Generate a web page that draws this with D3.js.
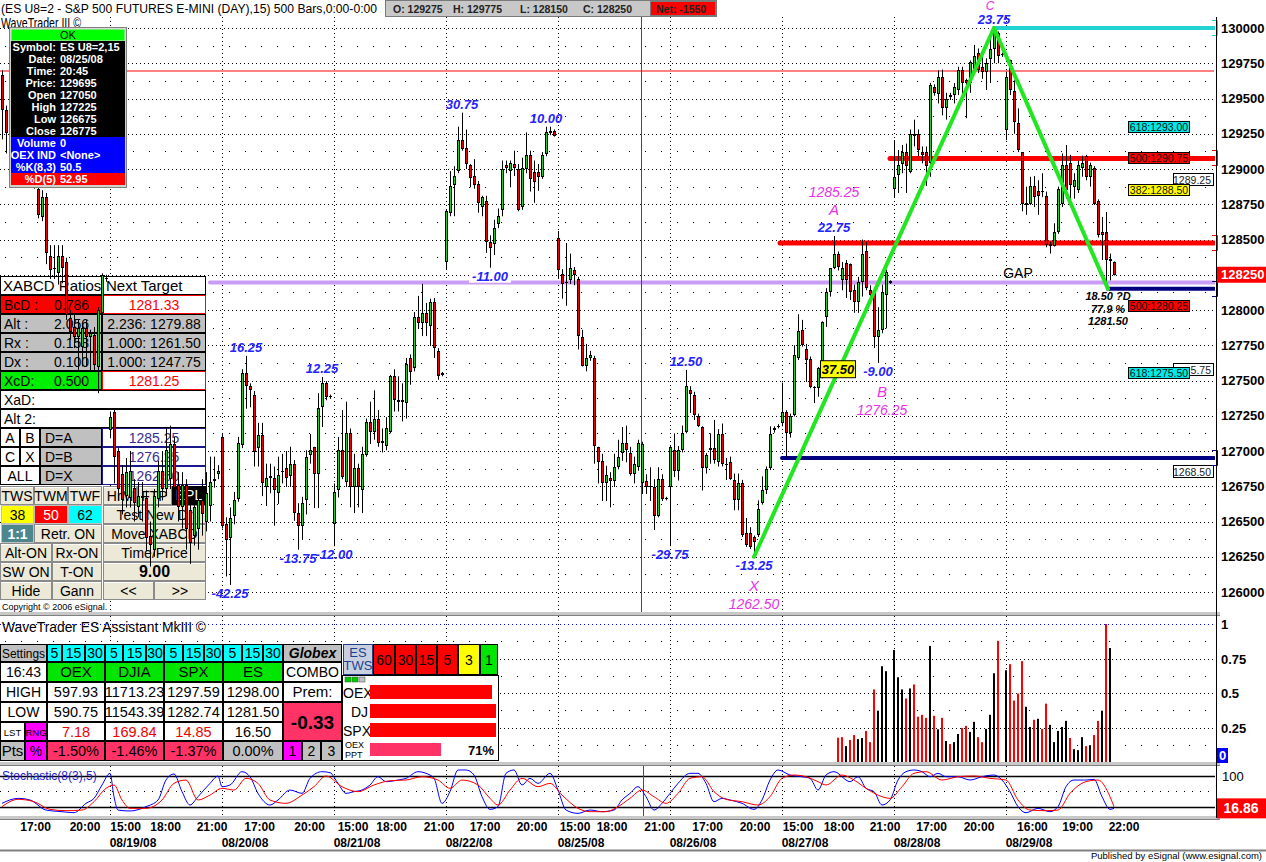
<!DOCTYPE html>
<html><head><meta charset="utf-8"><title>ES U8 15-min chart</title>
<script src="https://cdn.jsdelivr.net/npm/d3@7/dist/d3.min.js"></script>
<style>
html,body{margin:0;padding:0;background:#fff;}
svg{display:block;}
text{font-family:"Liberation Sans",Arial,Helvetica,sans-serif;}
</style></head><body>
<svg id="chart" width="1266" height="862"></svg>
<script>
// ================= DATA =================
// 15-minute candles, [open, high, low, close], one array per session (28 bars each)
const s0818 = [[1297.5,1298.5,1296.5,1296.8],[1296.7,1297.0,1292.1,1294.2],[1294.2,1294.5,1291.1,1292.55],[1292.5,1293.5,1291.0,1291.5],[1291.5,1292.5,1290.5,1292.0],[1292.0,1293.0,1291.0,1291.25],[1291.25,1292.0,1290.0,1290.5],[1290.5,1291.5,1289.5,1291.0],[1291.0,1291.5,1289.0,1289.5],[1289.5,1290.5,1288.6,1289.25],[1288.6,1289.5,1286.5,1286.75],[1286.6,1288.5,1286.3,1288.0],[1288.0,1288.3,1283.25,1284.05],[1283.8,1284.6,1282.2,1282.85],[1282.9,1284.6,1282.2,1283.0],[1282.6,1284.6,1281.8,1283.8],[1283.8,1284.6,1281.9,1283.0],[1283.4,1283.7,1279.3,1279.65],[1279.4,1280.0,1277.9,1278.45],[1278.8,1279.8,1277.3,1278.1],[1278.1,1279.3,1275.75,1278.7],[1277.4,1279.1,1276.0,1278.7],[1278.7,1279.3,1276.0,1278.1],[1278.1,1278.6,1275.75,1278.4],[1278.2,1278.8,1275.75,1276.1],[1275.96,1280.2,1274.1,1280.0],[1279.8,1282.6,1279.6,1282.5],[1282.3,1282.5,1282.0,1282.2]];
const s0819 = [[1271.5,1272.8,1270.9,1272.4],[1272.8,1273.0,1267.7,1269.6],[1270.0,1270.2,1266.5,1267.3],[1268.4,1269.0,1265.5,1266.5],[1266.8,1269.5,1266.0,1268.5],[1266.7,1270.0,1266.0,1268.6],[1267.4,1268.0,1265.0,1266.3],[1266.0,1267.8,1265.3,1266.8],[1266.7,1267.8,1265.0,1266.8],[1266.7,1267.2,1262.9,1263.8],[1264.0,1265.0,1261.8,1263.3],[1263.0,1267.3,1262.5,1266.8],[1266.6,1269.3,1266.0,1268.6],[1268.6,1270.0,1266.5,1267.3],[1267.3,1271.6,1266.8,1270.1],[1268.0,1271.8,1267.3,1270.5],[1270.5,1271.0,1266.8,1267.4],[1267.6,1268.5,1265.0,1266.0],[1266.0,1268.5,1264.5,1267.6],[1267.6,1268.0,1263.0,1264.5],[1265.8,1266.5,1262.0,1263.5],[1264.0,1266.5,1263.3,1266.0],[1264.5,1267.0,1263.0,1266.5],[1266.5,1268.0,1264.0,1265.5],[1265.0,1268.5,1264.3,1267.0],[1266.1,1269.6,1265.0,1267.8],[1267.9,1269.6,1267.4,1268.0],[1268.4,1269.0,1268.0,1268.6]];
const s0820 = [[1271.0,1271.2,1264.5,1264.7],[1264.8,1265.3,1261.1,1263.7],[1263.8,1266.0,1260.5,1265.25],[1265.4,1267.1,1264.8,1266.5],[1266.6,1271.0,1266.4,1270.6],[1270.4,1275.8,1270.2,1275.5],[1275.5,1276.75,1273.0,1274.6],[1274.6,1274.8,1273.1,1274.3],[1274.0,1274.25,1268.9,1269.9],[1270.2,1272.0,1268.9,1271.1],[1271.1,1272.0,1266.8,1267.7],[1267.45,1269.1,1266.1,1268.1],[1268.2,1269.1,1267.0,1268.1],[1268.1,1268.9,1264.7,1267.2],[1267.0,1269.6,1266.25,1268.3],[1268.5,1269.8,1267.7,1268.6],[1268.8,1270.0,1267.45,1268.1],[1268.2,1270.3,1267.45,1269.1],[1269.1,1269.35,1265.05,1265.6],[1265.6,1266.3,1263.0,1264.7],[1264.7,1266.75,1263.7,1266.3],[1266.5,1270.05,1265.5,1269.6],[1269.7,1271.2,1269.1,1270.05],[1270.3,1270.3,1265.95,1268.4],[1268.4,1274.1,1265.95,1273.05],[1273.1,1275.25,1271.7,1274.8],[1274.8,1274.95,1273.6,1273.85],[1273.9,1274.0,1273.7,1273.85]];
const s0821 = [[1264.8,1267.7,1263.25,1267.1],[1267.2,1271.0,1266.7,1270.05],[1270.05,1272.9,1268.0,1268.15],[1267.8,1273.5,1267.45,1271.3],[1271.3,1271.6,1266.0,1267.45],[1267.45,1269.8,1265.6,1268.8],[1268.8,1269.1,1266.0,1267.45],[1267.2,1270.3,1265.6,1269.8],[1269.7,1272.3,1269.6,1272.05],[1272.05,1273.5,1270.5,1271.35],[1271.35,1274.3,1270.8,1272.25],[1272.25,1272.9,1270.3,1270.6],[1270.7,1271.6,1269.9,1270.55],[1270.35,1272.4,1270.05,1271.6],[1271.35,1275.4,1271.25,1275.3],[1275.3,1275.8,1272.8,1273.6],[1273.6,1275.3,1272.8,1273.5],[1273.6,1274.8,1272.1,1273.5],[1273.4,1276.6,1272.3,1276.2],[1276.6,1276.85,1274.7,1275.6],[1275.9,1279.85,1275.65,1279.5],[1279.5,1281.0,1278.65,1279.1],[1279.1,1281.85,1278.15,1279.8],[1279.8,1280.5,1278.15,1279.1],[1278.9,1280.8,1277.45,1280.6],[1280.6,1280.85,1276.6,1277.3],[1277.1,1277.3,1275.05,1275.35],[1275.5,1275.6,1275.3,1275.4]];
const s0822 = [[1283.4,1287.1,1282.85,1287.0],[1286.9,1289.85,1286.65,1288.8],[1288.9,1290.2,1286.65,1289.5],[1289.85,1293.0,1289.7,1292.05],[1292.05,1294.0,1291.3,1291.4],[1291.5,1292.8,1290.0,1290.35],[1290.3,1290.35,1288.7,1289.35],[1289.5,1290.7,1288.6,1288.9],[1288.95,1289.15,1286.9,1287.6],[1287.3,1288.1,1286.65,1288.0],[1287.75,1288.1,1284.05,1284.85],[1284.8,1285.3,1283.0,1284.4],[1284.65,1286.4,1283.9,1285.8],[1286.1,1287.2,1285.8,1286.65],[1287.1,1290.6,1286.65,1290.0],[1290.3,1290.6,1289.7,1290.1],[1289.85,1290.6,1288.7,1290.45],[1290.35,1291.3,1289.5,1290.1],[1290.0,1290.35,1287.0,1287.1],[1287.3,1290.8,1287.1,1290.1],[1290.0,1292.6,1289.7,1291.0],[1291.0,1291.3,1288.4,1289.3],[1289.8,1290.6,1287.6,1289.1],[1289.8,1290.35,1288.45,1289.4],[1289.4,1291.2,1289.3,1291.0],[1291.05,1293.0,1290.9,1292.6],[1292.55,1293.0,1292.4,1292.7],[1292.7,1292.8,1292.3,1292.35]];
const s0825 = [[1285.1,1285.6,1282.2,1282.85],[1282.55,1282.9,1280.8,1281.85],[1282.0,1284.75,1280.3,1281.9],[1282.1,1284.0,1281.85,1283.0],[1282.85,1283.05,1281.75,1282.5],[1282.2,1282.35,1277.2,1278.15],[1278.1,1278.6,1276.0,1276.05],[1276.05,1277.6,1275.65,1276.6],[1276.6,1277.1,1276.4,1276.8],[1276.6,1276.75,1269.1,1270.35],[1270.3,1270.3,1267.7,1269.2],[1269.3,1269.8,1266.45,1267.7],[1267.7,1268.95,1266.45,1268.3],[1268.1,1268.5,1266.0,1267.9],[1267.9,1269.8,1267.45,1268.85],[1268.85,1270.8,1268.7,1269.6],[1269.85,1271.7,1269.3,1270.6],[1270.6,1271.8,1269.2,1270.1],[1269.85,1270.3,1268.25,1268.4],[1268.4,1269.6,1267.7,1269.1],[1268.85,1270.8,1268.6,1270.6],[1267.75,1270.65,1266.95,1270.5],[1267.85,1268.35,1266.95,1267.45],[1267.55,1268.85,1266.45,1267.45],[1267.45,1268.0,1264.4,1265.4],[1265.4,1268.85,1265.3,1268.0],[1268.0,1268.35,1266.45,1266.6],[1266.65,1266.75,1266.5,1266.6]];
const s0826 = [[1267.45,1270.35,1263.25,1270.3],[1270.1,1271.25,1268.15,1268.6],[1268.6,1270.35,1267.9,1270.1],[1270.05,1271.8,1269.9,1271.3],[1271.35,1275.75,1271.25,1274.6],[1274.3,1274.6,1272.7,1274.05],[1274.0,1274.2,1272.2,1272.55],[1272.5,1272.65,1271.7,1271.8],[1271.7,1271.75,1267.2,1268.8],[1268.8,1269.85,1268.4,1269.7],[1270.05,1271.25,1269.1,1270.2],[1270.2,1272.2,1269.1,1269.35],[1269.25,1271.55,1268.9,1271.2],[1271.2,1271.95,1268.9,1269.1],[1269.05,1269.5,1267.95,1269.0],[1269.2,1269.6,1267.95,1268.0],[1267.95,1268.4,1265.8,1266.55],[1266.55,1268.4,1265.8,1267.7],[1267.7,1267.95,1263.9,1264.05],[1264.2,1265.25,1263.2,1263.3],[1264.2,1264.6,1263.05,1263.2],[1263.9,1264.0,1262.5,1263.55],[1264.05,1266.5,1263.9,1265.9],[1266.3,1268.2,1266.2,1267.2],[1267.2,1268.9,1266.95,1268.7],[1268.8,1271.75,1268.65,1271.2],[1271.6,1271.75,1271.3,1271.5],[1271.8,1271.9,1271.6,1271.7]];
const s0827 = [[1272.0,1274.85,1271.75,1272.8],[1272.8,1272.9,1269.6,1271.25],[1271.25,1272.65,1270.95,1272.45],[1272.55,1277.5,1272.45,1276.8],[1276.6,1279.7,1276.45,1278.5],[1278.6,1279.3,1277.4,1277.5],[1277.2,1277.6,1274.9,1276.45],[1276.5,1276.7,1274.45,1274.55],[1274.55,1274.6,1273.4,1274.45],[1274.5,1275.95,1273.85,1275.9],[1275.95,1279.2,1275.15,1279.15],[1279.5,1281.55,1278.8,1281.3],[1281.3,1282.95,1280.95,1282.95],[1282.95,1285.25,1282.9,1283.95],[1283.95,1284.15,1282.8,1283.05],[1282.1,1283.4,1281.4,1282.95],[1283.3,1283.55,1280.85,1282.1],[1283.25,1283.3,1280.7,1281.3],[1281.45,1281.8,1279.8,1280.6],[1280.6,1282.35,1279.8,1282.0],[1282.0,1285.0,1280.95,1283.95],[1284.2,1284.85,1281.4,1281.55],[1281.4,1281.75,1280.9,1281.05],[1281.2,1281.4,1277.3,1278.1],[1278.1,1280.2,1276.25,1278.6],[1278.6,1281.8,1278.35,1281.3],[1281.05,1282.85,1278.7,1282.7],[1282.05,1282.1,1281.85,1281.95]];
const s0828 = [[1288.6,1292.05,1288.0,1289.45],[1289.6,1291.35,1288.3,1290.3],[1290.35,1291.7,1289.7,1291.2],[1291.2,1291.8,1288.3,1290.2],[1289.8,1292.8,1289.7,1292.5],[1292.5,1293.5,1291.6,1292.35],[1292.5,1292.8,1290.9,1291.35],[1291.2,1291.6,1290.4,1291.0],[1291.2,1291.6,1288.8,1290.2],[1290.4,1296.1,1289.45,1295.95],[1295.8,1296.0,1295.2,1295.4],[1295.3,1297.0,1294.65,1296.5],[1296.5,1297.05,1293.8,1294.3],[1294.3,1295.4,1293.5,1295.0],[1295.25,1295.4,1294.9,1295.1],[1295.25,1296.1,1294.65,1295.8],[1295.6,1297.25,1295.25,1297.0],[1297.0,1297.25,1295.1,1296.1],[1296.3,1296.4,1293.6,1296.1],[1296.1,1297.7,1295.4,1297.6],[1297.0,1298.8,1296.8,1298.0],[1298.25,1298.55,1296.8,1297.0],[1297.25,1298.2,1296.4,1296.9],[1296.9,1297.85,1295.6,1297.5],[1297.8,1299.5,1296.1,1298.5],[1298.5,1300.0,1297.5,1299.75],[1299.65,1299.75,1297.5,1298.0],[1298.15,1298.25,1297.95,1298.05]];
const s0829 = [[1292.75,1296.9,1292.05,1296.5],[1297.75,1297.75,1295.25,1295.6],[1295.55,1296.3,1292.5,1293.3],[1293.25,1294.3,1291.2,1291.35],[1291.2,1291.2,1287.0,1287.55],[1287.6,1288.75,1286.75,1287.45],[1287.55,1289.45,1287.45,1288.8],[1288.8,1289.5,1287.3,1288.0],[1288.45,1289.2,1286.75,1288.05],[1288.45,1289.7,1288.0,1288.35],[1288.05,1288.4,1284.45,1284.6],[1284.7,1284.85,1284.0,1284.55],[1284.55,1286.15,1284.5,1285.55],[1285.55,1288.75,1285.4,1288.6],[1287.55,1291.1,1287.3,1290.3],[1290.3,1291.7,1287.9,1288.5],[1290.45,1291.0,1287.9,1288.9],[1288.75,1289.7,1287.9,1289.2],[1288.5,1290.6,1288.3,1290.3],[1290.05,1290.95,1289.45,1290.45],[1290.9,1291.0,1289.2,1289.45],[1289.45,1290.45,1288.75,1290.3],[1290.05,1290.2,1287.45,1287.55],[1287.7,1287.85,1285.15,1285.3],[1285.55,1286.6,1283.55,1285.3],[1285.55,1286.95,1281.5,1283.55],[1283.6,1284.0,1282.1,1283.5],[1283.4,1283.45,1282.45,1282.5]];

const dateLabels = ["08/19/08","08/20/08","08/21/08","08/22/08","08/25/08","08/26/08","08/27/08","08/28/08","08/29/08"];
const dateLabelBars = [33.75,61.75,89.75,117.75,145.75,173.75,201.75,229.75,257.75];
const timeLabels = ["17:00","20:00","15:00","18:00","21:00","17:00","20:00","15:00","18:00","21:00","17:00","20:00","15:00","18:00","21:00","17:00","20:00","15:00","18:00","21:00","17:00","20:00","16:00","19:00","22:00"];
const timeLabelBars = [9.4,21.75,31.9,41.9,53.5,65.4,77.9,88.75,98.4,110.25,121.75,133.5,144.25,153.5,165.4,177.4,189.25,200,210.25,221.75,233.4,245.25,258.6,269.9,281.5];
const sessionStartBars = [28,56,84,112,140,168,196,224,252];
const priceTicks = d3.range(1260, 1301, 2.5);
const volumeTicks = [0.25, 0.5, 0.75, 1];
const volumeTickLabels = ["0.25","0.5","0.75","1"];

// volume (normalised) from bar 210 onward, 0 = no bar; colour R = red, K = black
const volumeStartBar = 210;
const volumeValues = [0.176,0.18,0.115,0.16,0.195,0.166,0.174,0.225,0.144,0.526,0.372,0.694,0.658,0,
 0.812,0.614,0.526,0.46,0.533,0.562,0.328,0.342,0.32,0.841,0.335,0.237,0.32,0.152,0.13,0.144,0.203,0.247,0.262,0.218,0.291,0.18,0.144,0.24,0.342,0.643,0.878,0,
 0.665,0.709,0.445,0.496,0.731,0.40,0.254,0.306,0.313,0.24,0.423,0.269,0.144,0.225,0.254,0.298,0.174,0.093,0.086,0.18,0.115,0.122,0.195,0.298,0.372,1.0,0.826];
const volumeColors = "RRKRRKKRRRKKK-KKKRKRRRRKRKRKRKKRRKKRRKKKR-KRRRRKKRKRRKKKKKRKKKRKRRKRK";

// Stochastic %K (blue) and %D (red): [bar, value]
const stochK = [[1,26.7],[5,36.4],[8,33.2],[12,13.6],[16,10.4],[19,8.4],[22,26.7],[24,36.4],[26,62.5],[28,85.3],[29,39.7],[30,13.6],[33,11.7],[37,20.2],[40,33.2],[42,72.2],[44,84],[46,49.5],[48,23.4],[50,39.7],[53,65.7],[55,80],[56,59.2],[58,62.5],[61,88.5],[63,78.7],[65,46.2],[68,23.4],[70,33.2],[73,52.7],[76,46.2],[78,75.5],[81,88.5],[83,86.6],[85,65.7],[87,46.2],[89,49.5],[91,52.7],[93,62.5],[95,78.7],[97,69],[100,72.2],[102,75.5],[105,88.5],[107,85.3],[109,75.5],[111,26.7],[113,49.5],[115,91.8],[117,91.8],[119,82],[121,39.7],[123,14.9],[125,20.2],[127,85.3],[129,91.8],[131,62.5],[133,75.5],[135,65.7],[138,85.3],[140,52.7],[142,13.6],[145,7.1],[148,13.6],[151,10.4],[154,13.6],[156,33.2],[158,46.2],[160,59.2],[162,39.7],[164,13.6],[166,26.7],[168,46.2],[170,65.7],[173,85.3],[175,85.3],[177,65.7],[179,29.9],[181,36.4],[183,33.2],[186,26.7],[189,14.9],[191,33.2],[193,72.2],[195,91.8],[198,82],[201,78.7],[203,75.5],[205,52.7],[207,82],[209,88.5],[213,69],[215,78.7],[217,56],[219,49.5],[221,23.4],[223,33.2],[225,72.2],[227,88.5],[229,91.8],[231,88.5],[233,78.7],[235,85.3],[237,78.7],[240,78.7],[243,72.2],[246,78.7],[249,82],[251,72.2],[253,49.5],[255,20.2],[257,8.4],[260,16.9],[263,10.4],[265,20.2],[267,59.2],[269,72.2],[272,72.2],[274,73.5],[276,39.7],[278,14.9],[279,16.86]];
const stochD = [[1,20.2],[5,34.5],[9,29.9],[13,14.9],[17,12.3],[21,13.6],[24,29.9],[27,56],[29,62.5],[31,33.2],[33,16.9],[37,16.9],[41,33.2],[44,65.7],[47,72.2],[50,33.2],[53,42.9],[56,56],[59,52.7],[62,75.5],[65,65.7],[68,33.2],[72,26.7],[76,42.9],[79,59.2],[82,80],[86,59.2],[90,49.5],[94,62.5],[98,70.9],[102,72.2],[106,78.7],[110,72.2],[113,56],[116,72.2],[120,62.5],[123,36.4],[125,23.4],[128,52.7],[131,75.5],[135,59.2],[138,65.7],[141,42.9],[145,16.9],[148,10.4],[152,10.4],[155,20.2],[158,36.4],[161,52.7],[164,39.7],[167,26.7],[170,46.2],[173,75.5],[176,78.7],[179,49.5],[182,34.5],[186,29.9],[190,23.4],[193,39.7],[196,75.5],[199,82],[202,78.7],[205,69],[207,62.5],[211,82],[214,72.2],[217,56],[221,39.7],[223,36.4],[226,59.2],[229,85.3],[232,88.5],[236,72.2],[240,78.7],[244,80],[248,75.5],[252,72.2],[255,33.2],[258,13.6],[262,12.3],[265,13.6],[268,46.2],[272,69],[275,72.2],[278,39.7],[279,20.2]];
const stochLast = 16.86;

// swing annotations
const swingBars = [58,62,75,81,84,116,123,137,168,172,189,209,220,249];
const swingPrices = [1260.5,1276.75,1263.0,1275.25,1263.25,1294.0,1283.0,1293.0,1263.25,1275.75,1262.5,1285.25,1276.25,1300.0];
const swingTexts = ["-42.25","16.25","-13.75","12.25","-12.00","30.75","-11.00","10.00","-29.75","12.50","-13.25","22.75","-9.00","23.75"];
// XABCD pattern points
const patNames = ["X","A","B","C","D"];
const patBars = [189,209,220,249,277.5];
const patPrices = [1262.5,1285.25,1276.25,1300.0,1281.5];
// horizontal levels
const levelPrices = [1300.0,1296.95,1290.75,1284.75,1281.95,1281.5,1269.5];
const levelStartBars = [249,0.5,223,195.5,53,277.5,196];
const levelColors = ["#22d2d2","#ff0000","#ff0000","#ff0000","#c99cf5","#000080","#000080"];
const levelWidths = [4,1,5,5,4,4,4];
const levelBracket = [true,false,true,true,false,true,true];
// fib target boxes
const fibPrices = [1293.0,1290.75,1288.5,1280.25,1275.5];
const fibTexts = ["618:1293.00","500:1290.75","382:1288.50","500:1280.25","618:1275.50"];
const fibColors = ["#00e8e8","#ff0000","#ffff00","#ff0000","#00e8e8"];
const tagPrices = [1289.25,1275.75,1268.5];
const tagTexts = ["1289.25","5.75","1268.50"];   // middle tag is partly hidden in the original, only "5.75" shows
const lastPrice = 1282.5;
const cursorBar = 161;

// info box / panels text
const infoLabels = ["Symbol:","Date:","Time:","Price:","Open","High","Low","Close","Volume","OEX IND","%K(8,3)","%D(5)"];
const infoValues = ["ES U8=2,15","08/25/08","20:45","129695","127050","127225","126675","126775","0","<None>","50.5","52.95"];
const ratioNames = ["BcD :","Alt  :","Rx  :","Dx  :","XcD:"];
const ratioValues = ["0.786","2.056","0.158","0.100","0.500"];
const nextTargets = ["1281.33","2.236: 1279.88","1.000: 1261.50","1.000: 1247.75","1281.25"];
const pointTargets = ["1285.25","1276.25","1262.50"];
const assistSymbols = ["OEX","DJIA","SPX","ES"];
const assistHigh = ["597.93","11713.23","1297.59","1298.00"];
const assistLow = ["590.75","11543.39","1282.74","1281.50"];
const assistRange = ["7.18","169.84","14.85","16.50"];
const assistPct = ["-1.50%","-1.46%","-1.37%","0.00%"];
const twsFrames = ["60","30","15","5","3","1"];
const headerStats = ["O: 129275","H: 129775","L: 128150","C: 128250"];

// ================= DRAW =================
const svg = d3.select("#chart");
const RIGHT = 1215;
const x = d3.scaleLinear().domain([0,280]).range([-2,1118]);
const yP = d3.scaleLinear().domain([1260,1300]).range([592,28]);
const yV = d3.scaleLinear().domain([0,1]).range([762,624]);
const yS = d3.scaleLinear().domain([0,100]).range([817,765.8]);

const bars = [].concat(s0818,s0819,s0820,s0821,s0822,s0825,s0826,s0827,s0828,s0829)
  .map((d,i)=>({g:i,o:d[0],h:d[1],l:d[2],c:d[3]}));

function T(g,xx,yy,s,o={}){
  const t=g.append("text").attr("x",xx).attr("y",yy).text(s)
   .attr("font-size",o.size||12).attr("fill",o.fill||"#000");
  if(o.weight) t.attr("font-weight",o.weight);
  if(o.style) t.attr("font-style",o.style);
  if(o.anchor) t.attr("text-anchor",o.anchor);
  if(o.len) t.attr("textLength",o.len).attr("lengthAdjust","spacingAndGlyphs");
  return t;
}
function R(g,xx,yy,w,h,fill,stroke,sw){
  return g.append("rect").attr("x",xx).attr("y",yy).attr("width",w).attr("height",h)
   .attr("fill",fill||"none").attr("stroke",stroke||"none").attr("stroke-width",sw||1);
}
function L(g,x1,y1,x2,y2,stroke,sw,dash){
  const l=g.append("line").attr("x1",x1).attr("y1",y1).attr("x2",x2).attr("y2",y2)
   .attr("stroke",stroke).attr("stroke-width",sw||1);
  if(dash) l.attr("stroke-dasharray",dash);
  return l;
}

const defs = svg.append("defs");
defs.append("clipPath").attr("id","clipP").append("rect").attr("x",0).attr("y",17).attr("width",RIGHT).attr("height",595);
defs.append("clipPath").attr("id","clipS").append("rect").attr("x",0).attr("y",765).attr("width",RIGHT).attr("height",51);

// ---------- price panel grid ----------
const grid = svg.append("g");
priceTicks.forEach(p=>{
  const yy=Math.round(yP(p))+0.5;
  L(grid,0,yy,RIGHT,yy,"#000",1,"1 3");
  if(p<1300){ const ym=Math.round(yP(p+1.25))+0.5; L(grid,5,ym,RIGHT,ym,"#000",1,"1 15"); }
});
sessionStartBars.forEach(g=>{ const xx=x(g)+0.5; L(grid,xx,17,xx,612,"#000",1,"1 3"); });

// ---------- XABCD ratio panel (under candles) ----------
const rp = svg.append("g");
function cell(g,x0,y0,x1,y1,fill,stroke,label,o={}){
  R(g,x0+0.5,y0+0.5,x1-x0-1,y1-y0-1,fill,stroke||"#000",1);
  if(label!==undefined){
    T(g,o.x!==undefined?o.x:(x0+x1)/2,(y0+y1)/2+(o.dy||5),label,
      {size:o.size||14,fill:o.fill||"#000",weight:o.weight,style:o.style,len:o.len,anchor:o.x!==undefined?"start":"middle"});
  }
}
const GREY="#c0c0c0", BEIGE="#ece9d8";
cell(rp,0,276,102,295,"#fff","#000","XABCD Ratios",{x:3,size:15});
cell(rp,102,276,206,295,"#fff","#000","Next Target",{x:106,size:15});
const ratioFill=["#ff0000",GREY,GREY,GREY,"#00ee00"];
for(let i=0;i<5;i++){
  const y0=295+i*19;
  cell(rp,0,y0,102,y0+19,ratioFill[i],"#000",ratioNames[i],{x:4});
  T(rp,54,y0+15,ratioValues[i],{size:14});
  const special=(i===0||i===4);
  cell(rp,102,y0,206,y0+19,special?"#fff":GREY,special?"#ff0000":"#000",nextTargets[i],{fill:special?"#ff0000":"#000"});
}
cell(rp,0,390,206,409,"#fff","#000","XaD:",{x:4});
cell(rp,0,409,206,428,"#fff","#000","Alt 2:",{x:4});
const pl=[["A","B","D=A"],["C","X","D=B"],["ALL",null,"D=X"]];
for(let i=0;i<3;i++){
  const y0=428+i*19;
  if(pl[i][1]){ cell(rp,0,y0,20,y0+19,"#fff","#000",pl[i][0]); cell(rp,20,y0,40,y0+19,"#fff","#000",pl[i][1]); }
  else cell(rp,0,y0,40,y0+19,"#fff","#000",pl[i][0]);
  cell(rp,40,y0,102,y0+19,GREY,"#000",pl[i][2],{x:45});
  cell(rp,102,y0,206,y0+19,"#fff","#1a1a8c",pointTargets[i],{fill:"#3a2d8f"});
}
function btn(g,x0,y0,x1,y1,label,fill,o={}){
  R(g,x0+0.5,y0+0.5,x1-x0-1,y1-y0-1,fill||BEIGE,"#8a8a8a",1);
  L(g,x0+1,y0+1.5,x1-1,y0+1.5,"#fff",1);
  T(g,(x0+x1)/2,(y0+y1)/2+5,label,{size:o.size||14,fill:o.fill||"#000",weight:o.weight,anchor:"middle"});
}
const bb=[["TWS",0,34],["TWM",34,68],["TWF",68,102],["HrM",103,137],["FTP",137,172]];
bb.forEach(b=>btn(rp,b[1],486,b[2],505,b[0]));
R(rp,172,486,34,19,"#000"); T(rp,189,500,"EPL",{size:14,fill:"#fff",anchor:"middle"});
cell(rp,1,505,34,524,"#ffff00","#c0c0c0","38");
cell(rp,34,505,68,524,"#ff0000","#c0c0c0","50",{fill:"#fff"});
cell(rp,68,505,102,524,"#00ffff","#c0c0c0","62");
btn(rp,103,505,206,524,"Test New Dr");
cell(rp,1,524,34,543,"#4d868c","#c0c0c0","1:1",{fill:"#fff",weight:"bold"});
btn(rp,34,524,102,543,"Retr. ON");
btn(rp,103,524,206,543,"Move XABCD");
btn(rp,0,543,52,562,"Alt-ON"); btn(rp,52,543,102,562,"Rx-ON"); btn(rp,103,543,206,562,"Time/Price");
btn(rp,0,562,52,581,"SW ON"); btn(rp,52,562,102,581,"T-ON"); btn(rp,103,562,206,581,"9.00",BEIGE,{size:16,weight:"bold"});
btn(rp,0,581,52,600,"Hide"); btn(rp,52,581,102,600,"Gann"); btn(rp,103,581,154,600,"<<"); btn(rp,154,581,206,600,">>");
T(rp,2,610,"Copyright © 2006 eSignal.",{size:9});

// ---------- levels ----------
const lv = svg.append("g").attr("clip-path","url(#clipP)");
levelPrices.forEach((p,i)=>{
  const yy=yP(p);
  L(lv,x(levelStartBars[i]),yy,RIGHT-1,yy,levelColors[i],levelWidths[i]).attr("stroke-linecap",levelWidths[i]>3?"round":"butt");
});
L(svg,x(cursorBar)-0.5,17,x(cursorBar)-0.5,612,"#ff0000",1);

// ---------- candles ----------
const cg = svg.append("g").attr("clip-path","url(#clipP)");
bars.forEach(b=>{
  const cx=Math.round(x(b.g));
  L(cg,cx+0.5,yP(b.h),cx+0.5,yP(b.l),"#000",1);
  const top=Math.round(yP(Math.max(b.o,b.c))), bot=Math.round(yP(Math.min(b.o,b.c)));
  const h=Math.max(1,bot-top);
  R(cg,cx-1,top,3,h,"#000");
  if(h>2) R(cg,cx,top+1,1,h-2,b.c>=b.o?"#1ed21e":"#ee0000");
});

// ---------- XABCD lines ----------
const pat = patNames.map((n,i)=>({n,g:patBars[i],p:patPrices[i]}));
const pg = svg.append("g").attr("clip-path","url(#clipP)");
[[0,3],[3,4]].forEach(s=>{
  L(pg,x(pat[s[0]].g),yP(pat[s[0]].p),x(pat[s[1]].g),yP(pat[s[1]].p),"#22e622",4).attr("stroke-linecap","round");
});

// ---------- annotations ----------
const an = svg.append("g");
swingBars.forEach((g,i)=>{
  const isLow = swingTexts[i].startsWith("-");
  const xx=x(g), yy=isLow? yP(swingPrices[i])+13 : yP(swingPrices[i])-4;
  if(swingTexts[i]==="-11.00") R(an,xx-21,yy-11,42,13,"#fff");
  T(an,xx,yy,swingTexts[i],{size:13,weight:"bold",style:"italic",fill:"#2424ff",anchor:"middle"});
});
const MAG="#e633e6";
pat.slice(0,4).forEach(pt=>{
  const isLow = (pt.n==="X"||pt.n==="B");
  const xx=x(pt.g)+(pt.n==="B"?4:0), y0=yP(pt.p);
  if(isLow){
    T(an,xx,y0+34,pt.n,{size:15,style:"italic",fill:MAG,anchor:"middle"});
    T(an,xx,y0+52,pt.p.toFixed(2),{size:14,style:"italic",fill:MAG,anchor:"middle"});
  } else if(pt.n==="C"){
    T(an,xx-4,y0-18,pt.n,{size:12,style:"italic",fill:MAG,anchor:"middle"});
  } else {
    T(an,xx,y0-21,pt.n,{size:15,style:"italic",fill:MAG,anchor:"middle"});
    T(an,xx,y0-39,pt.p.toFixed(2),{size:14,style:"italic",fill:MAG,anchor:"middle"});
  }
});
// XC extension label
R(an,x(210)-17.5,yP(1275.8)-8.5,35,17,"#ffff00","#000",1);
T(an,x(210),yP(1275.8)+5,"37.50",{size:13,weight:"bold",style:"italic",anchor:"middle"});
T(an,x(255),yP(1282.6)+5,"GAP",{size:14,anchor:"middle"});
const dP=pat[4];
T(an,x(dP.g),yP(dP.p)+11,"18.50 ?D",{size:11,weight:"bold",style:"italic",anchor:"middle"});
T(an,x(dP.g),yP(dP.p)+24,"77.9 %",{size:11,weight:"bold",style:"italic",anchor:"middle"});
T(an,x(dP.g),yP(dP.p)+36,"1281.50",{size:11,weight:"bold",style:"italic",anchor:"middle"});

// right-side tag boxes
tagPrices.forEach((p,i)=>{
  const yy=Math.round(yP(p));
  R(an,1173.5,yy-6.5,40,12,"#fff","#000",1);
  T(an,1211,yy+4,tagTexts[i],{size:10.5,anchor:"end",fill:"#222"});
});
fibPrices.forEach((p,i)=>{
  const yy=Math.round(yP(p));
  R(an,1128.5,yy-5.5,61,11,fibColors[i],"#000",1);
  T(an,1159,yy+4,fibTexts[i],{size:10.5,anchor:"middle",fill:"#111"});
});
levelPrices.forEach((p,i)=>{
  if(!levelBracket[i]) return;
  const yy=Math.round(yP(p));
  an.append("path").attr("d",`M1212,${yy-7.5}H1217.5V${yy+7.5}H1212`).attr("fill","none").attr("stroke",levelColors[i]).attr("stroke-width",1);
});

// ---------- header ----------
const hd = svg.append("g");
R(hd,0,0,384,17,"#fff");
T(hd,1,13,"(ES U8=2 - S&P 500 FUTURES E-MINI (DAY),15) 500 Bars,0:00-0:00",{size:12.5,len:376});
R(hd,385.5,0.5,331,16,"#c8c8c8","#7a7a7a",1);
const hsx=[393,453,520,583];
headerStats.forEach((s,i)=>T(hd,hsx[i],12.5,s,{size:10.5,weight:"bold",fill:"#222"}));
R(hd,650.5,1.5,65,14,"#ff0000","#7a7a7a",1);
T(hd,656,12.5,"Net: -1550",{size:10.5,weight:"bold",fill:"#222"});
T(hd,1,28,"WaveTrader III ©",{size:14,len:80});

// ---------- info box ----------
const ib = svg.append("g");
R(ib,9.5,27.5,117,160,"#d4d0c8","#808080",1);
R(ib,11,29,114,12,"#00ff00","#e0e0e0",1);
T(ib,68,39,"OK",{size:11,anchor:"middle"});
R(ib,11,41,114,96,"#000");
R(ib,11,137,114,36,"#0000ff");
R(ib,11,173,114,12,"#ff0000");
infoLabels.forEach((l,i)=>{
  const yy=51+i*12;
  T(ib,56,yy,l,{size:11,weight:"bold",fill:"#fff",anchor:"end"});
  T(ib,60,yy,infoValues[i],{size:11,weight:"bold",fill:"#fff"});
});

// ---------- panel separators ----------
function sep(yy){ R(svg,0,yy,RIGHT+5,3,"#c8c8c8"); L(svg,0,yy+3.5,RIGHT+5,yy+3.5,"#808080",1); }
sep(612); sep(762);

// ---------- volume / assistant panel ----------
const vp = svg.append("g");
volumeTicks.forEach(v=>{
  const yy=Math.round(yV(v))+0.5;
  L(vp,0,yy,RIGHT,yy,v===1?"#0000ff":"#000",1,"1 3");
  const ym=Math.round(yV(v-0.125))+0.5; L(vp,5,ym,RIGHT,ym,"#000",1,"1 15");
});
sessionStartBars.forEach(g=>{ const xx=x(g)+0.5; L(vp,xx,616,xx,762,"#000",1,"1 3"); });
volumeValues.forEach((v,i)=>{
  if(!v) return;
  const g=volumeStartBar+i, xx=Math.round(x(g));
  R(vp,xx-1,yV(v),2,yV(0)-yV(v),volumeColors[i]==="R"?"#ff0000":"#000");
});
T(vp,2,632,"WaveTrader ES Assistant MkIII ©",{size:14,len:204});
// assistant table
const at = svg.append("g");
const GRN="#00e600", PINK="#ff3366", MAGC="#ff00ff", CY="#00ffff";
cell(at,0,644,47,662,GREY,"#000","Settings",{x:2,size:13,len:43});
const subs=[[47,62],[62,85],[85,105],[105,123],[123,146],[146,164],[164,183],[183,204],[204,223],[223,242],[242,263],[263,283]];
subs.forEach((s,i)=>cell(at,s[0],644,s[1],662,CY,"#000",["5","15","30"][i%3]));
cell(at,283,644,342,662,GREY,"#000","Globex",{style:"italic",weight:"bold"});
const colsX=[[47,105],[105,164],[164,223],[223,283]];
cell(at,0,662,47,682,"#fff","#000","16:43");
assistSymbols.forEach((s,i)=>cell(at,colsX[i][0],662,colsX[i][1],682,GRN,"#000",s,{size:15}));
cell(at,283,662,342,682,"#fff","#000","COMBO");
cell(at,0,682,47,702,"#fff","#000","HIGH");
assistHigh.forEach((s,i)=>cell(at,colsX[i][0],682,colsX[i][1],702,"#fff","#000",s,{size:14.5}));
cell(at,283,682,342,702,"#fff","#000","Prem:",{size:15});
cell(at,0,702,47,722,"#fff","#000","LOW");
assistLow.forEach((s,i)=>cell(at,colsX[i][0],702,colsX[i][1],722,"#fff","#000",s,{size:14.5}));
cell(at,283,702,342,741,PINK,"#000","-0.33",{size:19,weight:"bold",dy:7});
cell(at,0,722,25,741,"#fff","#000","LST",{size:9.5,dy:4});
cell(at,25,722,47,741,MAGC,"#000","RNG",{size:9.5,dy:4});
assistRange.forEach((s,i)=>cell(at,colsX[i][0],722,colsX[i][1],741,"#fff","#000",s,{size:14.5,fill:i<3?"#ee0000":"#000"}));
cell(at,0,741,25,761,GREY,"#000","Pts",{size:15});
cell(at,25,741,47,761,MAGC,"#000","%");
assistPct.forEach((s,i)=>cell(at,colsX[i][0],741,colsX[i][1],761,i<3?PINK:GREY,"#000",s,{size:14.5}));
cell(at,283,741,302,761,MAGC,"#000","1");
cell(at,302,741,321,761,GREY,"#000","2");
cell(at,321,741,342,761,GREY,"#000","3");
// TWS block
R(at,343.5,644.5,29,30,"#c8d0e0","#1f3f8f",1);
T(at,358,657,"ES",{size:13,fill:"#1f3f8f",anchor:"middle"});
T(at,358,670,"TWS",{size:13,fill:"#1f3f8f",anchor:"middle"});
const twsX=[373,395,416,437,458,480,498];
twsFrames.forEach((f,i)=>cell(at,twsX[i],644,twsX[i+1],675,i===4?"#ffff00":(i===5?"#00e600":"#ff0000"),"#000",f));
R(at,342.5,675.5,156,85,"#fff","#000",1);
R(at,345,677,6,5,"#00cc00","#444",0.5); R(at,352,677,6,5,"#00cc00","#444",0.5); R(at,359,677,6,5,"#c0c0c0","#444",0.5);
T(at,343,698,"OEX",{size:14}); R(at,370,685,122,14,"#ff0000");
T(at,368,717,"DJ",{size:14,anchor:"end"}); R(at,370,704,126,14,"#ff0000");
T(at,343,736,"SPX",{size:14}); R(at,370,723,126,14,"#ff0000");
T(at,345,748,"OEX",{size:9}); T(at,345,758,"PPT",{size:9});
R(at,370,743,71,13,PINK);
T(at,494,755,"71%",{size:13,weight:"bold",anchor:"end"});

// ---------- stochastic panel ----------
const sp = svg.append("g");
L(sp,0,Math.round(yS(80))+0.5,RIGHT,Math.round(yS(80))+0.5,"#000",1.5);
L(sp,0,Math.round(yS(20))+0.5,RIGHT,Math.round(yS(20))+0.5,"#000",1.5);
L(sp,0,Math.round(yS(50))+0.5,RIGHT,Math.round(yS(50))+0.5,"#000",1,"1 7");
sessionStartBars.forEach(g=>{ const xx=x(g)+0.5; L(sp,xx,766,xx,816,"#000",1,"1 3"); });
L(sp,x(cursorBar)+1.5,766,x(cursorBar)+1.5,816,"#ff0000",1);
const sl = d3.line().x(d=>x(d[0])).y(d=>yS(d[1])).curve(d3.curveMonotoneX);
const sc = sp.append("g").attr("clip-path","url(#clipS)");
sc.append("path").attr("d",sl(stochK)).attr("fill","none").attr("stroke","#0000ff").attr("stroke-width",1);
sc.append("path").attr("d",sl(stochD)).attr("fill","none").attr("stroke","#ff0000").attr("stroke-width",1);
T(sp,2,780,"Stochastic(8(3),5)",{size:12,fill:"#2222cc"});
sep(816);

// ---------- right axes ----------
const ax = svg.append("g");
L(ax,1216.5,17,1216.5,818,"#000",1);
priceTicks.forEach(p=>{
  T(ax,1221,yP(p)+4.5,(p*100).toFixed(0),{size:13,weight:"bold"});
});
R(ax,1217,yP(lastPrice)-8,49,16,"#ff0000");
T(ax,1221,yP(lastPrice)+4.5,(lastPrice*100).toFixed(0),{size:13,weight:"bold",fill:"#fff"});
volumeTicks.forEach((v,i)=>T(ax,1221,yV(v)+5,volumeTickLabels[i],{size:13,weight:"bold"}));
R(ax,1217,yV(0)-14,11,15,"#0000ff");
T(ax,1222.5,yV(0)-2,"0",{size:13,weight:"bold",fill:"#fff",anchor:"middle"});
T(ax,1222,yS(80)+4.5,"100",{size:13});
R(ax,1217,yS(stochLast)-10,49,20,"#ff0000");
T(ax,1241,yS(stochLast)+5,stochLast.toFixed(2),{size:14,weight:"bold",fill:"#fff",anchor:"middle"});

// ---------- x axis ----------
const xa = svg.append("g");
timeLabels.forEach((t,i)=>T(xa,x(timeLabelBars[i]),831,t,{size:12,weight:"bold",anchor:"middle"}));
dateLabels.forEach((t,i)=>T(xa,x(dateLabelBars[i]),847,t,{size:12,weight:"bold",anchor:"middle"}));
L(xa,0,850.5,1266,850.5,"#808080",2);
T(xa,1262,859,"Published by eSignal (www.esignal.com)",{size:9.5,anchor:"end"});
</script>
</body></html>
